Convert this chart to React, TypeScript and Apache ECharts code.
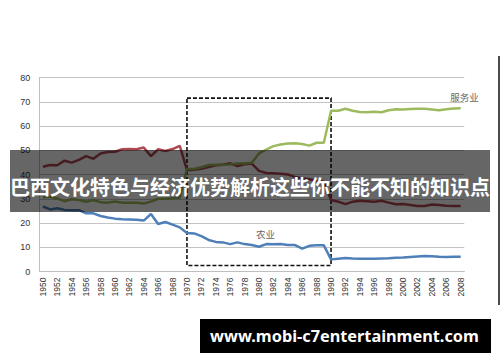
import React, { useEffect, useRef } from "react";
import * as echarts from "echarts";

const years = [
  "1950","1951","1952","1953","1954","1955","1956","1957","1958","1959",
  "1960","1961","1962","1963","1964","1965","1966","1967","1968","1969",
  "1970","1971","1972","1973","1974","1975","1976","1977","1978","1979",
  "1980","1981","1982","1983","1984","1985","1986","1987","1988","1989",
  "1990","1991","1992","1993","1994","1995","1996","1997","1998","1999",
  "2000","2001","2002","2003","2004","2005","2006","2007","2008",
];

const agriculture = [
  26.8, 25.6, 26.1, 25.4, 25.3, 25.3, 24.0, 24.0, 22.9, 22.3,
  21.8, 21.5, 21.4, 21.3, 21.0, 23.7, 19.6, 20.4, 19.3, 18.2,
  15.9, 15.7, 14.6, 13.0, 12.2, 12.0, 11.3, 12.0, 11.3, 10.9,
  10.2, 11.3, 11.2, 11.3, 10.9, 10.9, 9.4, 10.6, 10.8, 10.8,
  5.0, 5.3, 5.6, 5.4, 5.3, 5.3, 5.3, 5.4, 5.5, 5.7,
  5.8, 6.0, 6.2, 6.4, 6.3, 6.1, 6.0, 6.1, 6.1,
];

const industry = [
  43.2, 43.9, 43.8, 45.7, 44.9, 46.0, 47.6, 46.5, 48.7, 49.3,
  49.4, 50.4, 50.5, 50.4, 51.1, 47.6, 50.4, 49.7, 50.5, 51.8,
  41.8, 42.0, 42.4, 43.1, 43.8, 44.0, 44.6, 43.5, 44.2, 44.5,
  41.5, 40.6, 40.5, 40.3, 40.0, 39.0, 38.5, 38.0, 37.5, 37.0,
  29.5, 28.8, 27.8, 28.8, 29.2, 29.0, 28.8, 29.2, 28.4, 27.7,
  27.8, 27.4, 27.0, 27.0, 27.6, 27.4, 27.1, 27.0, 27.0,
];

const services = [
  30.6, 30.8, 30.1, 29.0, 29.8, 29.5, 28.8, 29.5, 28.6, 28.4,
  28.9, 28.4, 28.4, 28.4, 28.0, 28.8, 30.0, 30.0, 30.2, 30.4,
  42.3, 42.3, 43.0, 43.9, 44.0, 44.0, 44.1, 44.5, 44.5, 44.8,
  48.7, 50.3, 51.7, 52.4, 52.8, 52.9, 52.6, 51.9, 53.1, 53.1,
  66.3, 66.3, 67.1, 66.3, 65.8, 65.7, 65.9, 65.7, 66.5, 66.9,
  66.8, 67.0, 67.1, 67.1, 66.8, 66.5, 66.9, 67.2, 67.3,
];

const yTicks = { min: 0, max: 80, interval: 10 };
const boxRange = { from: "1970", to: "1990", top: 71.5, bottom: 2.5 };

const bannerTitle = "巴西文化特色与经济优势解析这些你不能不知的知识点";
const footerText = "www.mobi-c7entertainment.com";
const servicesLabel = "服务业";
const agricultureLabel = "农业";

export default function App() {
  const ref = useRef<HTMLDivElement>(null);
  useEffect(() => {
    if (!ref.current) return;
    const chart = echarts.init(ref.current, null, { renderer: "svg" });
    const lineCommon = {
      type: "line",
      symbol: "none",
      smooth: false,
      lineStyle: { width: 2.5 },
    };
    chart.setOption({
      animation: false,
      backgroundColor: "#ffffff",
      grid: { left: 39.3, top: 77.5, width: 425, height: 194 },
      xAxis: {
        type: "category",
        data: years,
        boundaryGap: true,
        axisLine: { show: true, lineStyle: { color: "#bfbfbf", width: 1 } },
        axisTick: { show: false },
        axisLabel: {
          interval: 1,
          rotate: 90,
          fontSize: 8.5,
          color: "#333",
          fontFamily: "Liberation Sans, Arial, sans-serif",
          margin: 6,
        },
        splitLine: { show: false },
      },
      yAxis: {
        type: "value",
        min: yTicks.min,
        max: yTicks.max,
        interval: yTicks.interval,
        axisLine: { show: true, lineStyle: { color: "#bfbfbf", width: 1 } },
        axisTick: { show: false },
        axisLabel: {
          fontSize: 9,
          color: "#333",
          fontFamily: "Liberation Sans, Arial, sans-serif",
          margin: 9,
        },
        splitLine: { show: true, lineStyle: { color: "#c4c4c4", width: 1 } },
      },
      series: [
        {
          ...lineCommon,
          name: "工业",
          data: industry,
          lineStyle: { width: 2.5, color: "#ae4850" },
          itemStyle: { color: "#ae4850" },
        },
        {
          ...lineCommon,
          name: "服务业",
          data: services,
          lineStyle: { width: 2.5, color: "#9dba5e" },
          itemStyle: { color: "#9dba5e" },
        },
        {
          ...lineCommon,
          name: "农业",
          data: agriculture,
          lineStyle: { width: 2.5, color: "#4f7fb9" },
          itemStyle: { color: "#4f7fb9" },
          markArea: {
            silent: true,
            itemStyle: {
              color: "rgba(0,0,0,0)",
              borderColor: "#111",
              borderWidth: 1.6,
              borderType: [4, 2],
            },
            label: { show: false },
            data: [
              [
                { xAxis: boxRange.from, yAxis: boxRange.top },
                { xAxis: boxRange.to, yAxis: boxRange.bottom },
              ],
            ],
          },
        },
      ],
      graphic: [
        {
          type: "text",
          x: 464.5,
          y: 97,
          style: {
            text: servicesLabel,
            fontSize: 9.5,
            fill: "#666",
            fontFamily: "Noto Sans CJK SC",
            align: "center",
            verticalAlign: "middle",
          },
        },
        {
          type: "text",
          x: 265.5,
          y: 233.5,
          style: {
            text: agricultureLabel,
            fontSize: 9.5,
            fill: "#666",
            fontFamily: "Noto Sans CJK SC",
            align: "center",
            verticalAlign: "middle",
          },
        },
        {
          type: "line",
          shape: { x1: 499, y1: 56, x2: 499, y2: 305 },
          style: { stroke: "#111", lineWidth: 1.5 },
        },
        {
          type: "rect",
          shape: { x: 10, y: 150, width: 480, height: 62 },
          style: { fill: "rgba(0,0,0,0.6)" },
          z: 100,
        },
        {
          type: "text",
          x: 250,
          y: 186.5,
          z: 101,
          style: {
            text: bannerTitle,
            fontSize: 20,
            fontWeight: "bold",
            fill: "#ffffff",
            fontFamily: "Noto Sans CJK SC",
            align: "center",
            verticalAlign: "middle",
          },
        },
        {
          type: "rect",
          shape: { x: 200, y: 319, width: 291, height: 34 },
          style: { fill: "#000000" },
          z: 100,
        },
        {
          type: "text",
          x: 344.5,
          y: 336,
          z: 101,
          style: {
            text: footerText,
            fontSize: 16.3,
            fontWeight: "bold",
            fill: "#ffffff",
            fontFamily: "Noto Sans",
            align: "center",
            verticalAlign: "middle",
          },
        },
      ],
    });
    return () => chart.dispose();
  }, []);
  return (
    <div
      ref={ref}
      style={{ position: "absolute", left: 0, top: 0, width: 500, height: 362 }}
    />
  );
}
